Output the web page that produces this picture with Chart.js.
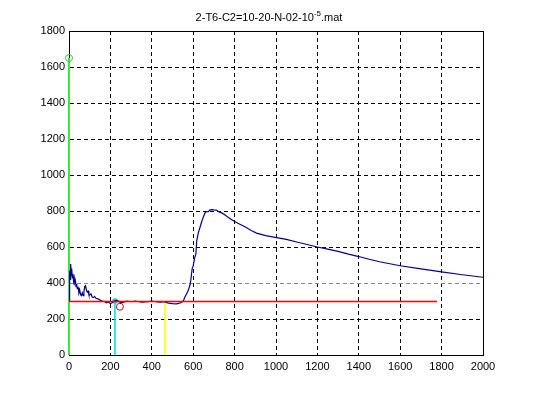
<!DOCTYPE html>
<html>
<head>
<meta charset="utf-8">
<script src="https://cdn.jsdelivr.net/npm/chart.js@4"></script>
<style>
  html, body { margin: 0; padding: 0; background: #fff; }
  #wrap { width: 534px; height: 399px; }
</style>
</head>
<body>
<div id="wrap"><canvas id="chart"></canvas></div>
<script>
// title pieces: base text, superscript, tail
const titleMain = '2-T6-C2=10-20-N-02-10'
const titleSup = '-5'
const titleTail = '.mat'

// main signal (blue)
const signalX = [0, 2, 4, 6, 8, 10, 12, 14, 16, 19, 22, 25, 28, 31, 34, 37, 40, 44, 48, 52, 56, 60, 64, 68, 72, 76, 80, 84, 88, 92, 96, 100, 106, 112, 118, 124, 130, 140, 150, 160, 170, 180, 190, 200, 210, 220, 230, 240, 250, 265, 280, 300, 320, 350, 380, 400, 420, 440, 460, 480, 500, 520, 540, 552, 560, 575, 585, 590, 595, 600, 607, 613, 617, 625, 633, 641, 650, 658, 665, 672, 680, 690, 700, 712, 725, 740, 754, 770, 790, 818, 850, 880, 906, 950, 1003, 1050, 1100, 1150, 1200, 1250, 1300, 1350, 1400, 1450, 1500, 1550, 1600, 1700, 1800, 1900, 2000]
const signalY = [300, 300, 470, 420, 505, 470, 440, 480, 430, 450, 410, 430, 400, 410, 380, 395, 370, 375, 345, 360, 335, 330, 345, 330, 350, 380, 385, 360, 350, 355, 335, 333, 340, 322, 320, 325, 315, 312, 305, 300, 298, 290, 295, 285, 292, 300, 305, 298, 290, 294, 300, 296, 300, 293, 296, 300, 296, 293, 296, 288, 285, 284, 290, 300, 322, 355, 390, 430, 480, 495, 540, 560, 635, 680, 710, 740, 770, 792, 797, 795, 805, 808, 806, 805, 795, 788, 778, 764, 748, 731, 712, 692, 677, 663, 652, 642, 628, 614, 600, 588, 576, 560, 547, 532, 518, 507, 496, 478, 462, 446, 432]

// baseline (red)
const baseX = [0, 1778]
const baseY = [297, 297]

// vertical markers
const greenX = [0, 0], greenY = [0, 1650]
const cyanX = [222, 222], cyanY = [0, 300]
const yellowX = [464, 464], yellowY = [0, 300]
const circleX = [246], circleY = [268]

const xTicks = [0, 200, 400, 600, 800, 1000, 1200, 1400, 1600, 1800, 2000]
const yTicks = [0, 200, 400, 600, 800, 1000, 1200, 1400, 1600, 1800]

const pts = (xs, ys) => xs.map((x, i) => ({ x: x, y: ys[i] }))

const FONT = '"Liberation Sans", Arial, sans-serif'

const titlePlugin = {
    id: 'matTitle',
    afterDraw(chart) {
        const ctx = chart.ctx
        const area = chart.chartArea
        ctx.save()
        ctx.fillStyle = '#000'
        ctx.textBaseline = 'alphabetic'
        ctx.font = '11px ' + FONT
        const w1 = ctx.measureText(titleMain).width
        const w3 = ctx.measureText(titleTail).width
        ctx.font = '8px ' + FONT
        const w2 = ctx.measureText(titleSup).width
        let x = (area.left + area.right) / 2 - 7 - (w1 + w2 + w3) / 2
        ctx.font = '11px ' + FONT
        ctx.fillText(titleMain, x, 21)
        x += w1
        ctx.font = '8px ' + FONT
        ctx.fillText(titleSup, x, 16)
        x += w2
        ctx.font = '11px ' + FONT
        ctx.fillText(titleTail, x, 21)
        ctx.restore()
    }
}

const boxPlugin = {
    id: 'axesBox',
    beforeDatasetsDraw(chart) {
        const a = chart.chartArea
        const ctx = chart.ctx
        ctx.save()
        ctx.strokeStyle = '#000'
        ctx.lineWidth = 1
        ctx.strokeRect(Math.round(a.left) + 0.5, Math.round(a.top) + 0.5,
            Math.round(a.right - a.left), Math.round(a.bottom - a.top))
        ctx.restore()
    }
}

const line = (data, color, extra) => Object.assign({
    data: data,
    borderColor: color,
    backgroundColor: color,
    borderWidth: 1,
    pointRadius: 0,
    tension: 0,
    fill: false,
    clip: 6
}, extra || {})

new Chart(document.getElementById('chart').getContext('2d'), {
    type: 'line',
    data: {
        datasets: [
            line(pts(baseX, baseY), '#ff0000', { borderWidth: 1.6 }),
            line(pts(signalX, signalY), '#000096', { borderWidth: 1.2 }),
            line(pts(greenX, greenY), '#33ee33', {
                borderWidth: 2, pointRadius: [0, 3.5], pointBorderWidth: 1,
                pointBackgroundColor: 'rgba(0,0,0,0)', pointBorderColor: '#33cc33'
            }),
            line(pts(cyanX, cyanY), '#00e5e5', {
                borderWidth: 1.6, pointRadius: [0, 2], pointBorderColor: '#00dddd'
            }),
            line(pts(yellowX, yellowY), '#ffff00', { borderWidth: 1.6 }),
            line(pts(circleX, circleY), '#ff0000', {
                showLine: false, pointRadius: 3.5, pointBackgroundColor: 'rgba(0,0,0,0)', pointBorderColor: '#e00000'
            })
        ]
    },
    options: {
        responsive: true,
        maintainAspectRatio: false,
        animation: false,
        layout: { padding: { top: 31, right: 51, left: 0, bottom: 0 } },
        plugins: { legend: { display: false }, tooltip: { enabled: false } },
        scales: {
            x: {
                type: 'linear',
                min: 0,
                max: 2000,
                afterFit: s => { s.height = 44 },
                afterBuildTicks: s => { s.ticks = xTicks.map(v => ({ value: v })) },
                ticks: {
                    color: '#000', font: { size: 11, family: FONT }, padding: 5, maxRotation: 0,
                    callback: v => String(v)
                },
                grid: { color: '#000', drawTicks: false },
                border: { display: true, color: '#000', width: 1, dash: [4, 3] }
            },
            y: {
                type: 'linear',
                min: 0,
                max: 1800,
                afterFit: s => { s.width = 69 },
                afterBuildTicks: s => { s.ticks = yTicks.map(v => ({ value: v })) },
                ticks: {
                    color: '#000', font: { size: 11, family: FONT }, padding: 4,
                    callback: v => String(v)
                },
                grid: {
                    color: c => (c.tick && c.tick.value === 400 ? '#888' : '#000'),
                    drawTicks: false
                },
                border: { display: true, color: '#000', width: 1, dash: [4, 3] }
            }
        }
    },
    plugins: [titlePlugin, boxPlugin]
})
</script>
</body>
</html>
